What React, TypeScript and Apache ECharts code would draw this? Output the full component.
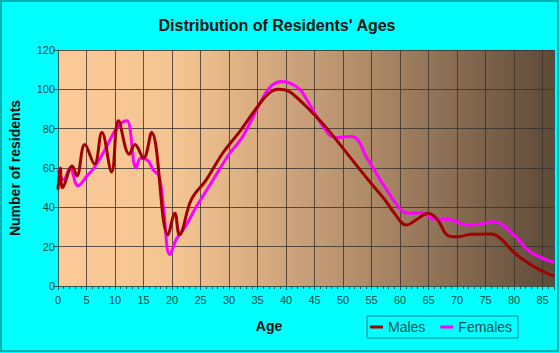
import React, { useEffect, useRef } from "react";
import * as echarts from "echarts";

const title = "Distribution of Residents' Ages";
const xTicks = [0, 5, 10, 15, 20, 25, 30, 35, 40, 45, 50, 55, 60, 65, 70, 75, 80, 85];
const yTicks = [0, 20, 40, 60, 80, 100, 120];

const malesAge = [0, 0.4, 0.8, 2.5, 3.3, 4.7, 6.4, 7.7, 9.4, 10.6, 12.5, 13.5, 15, 16.4, 19.3, 20.5, 21.3, 23.4, 26, 29, 32, 34.7, 37, 38.7, 40.5, 42.2, 45, 47.5, 50, 54.4, 57.3, 59, 61.1, 63, 64.9, 66.5, 68.5, 70, 72.4, 76, 77.5, 80, 82.8, 85, 87];
const malesVal = [49, 60, 50, 61, 56, 72, 62, 78, 58, 84, 67, 72, 65, 78, 26, 37, 26, 44, 54, 68, 79, 90, 98, 100, 99, 95, 87, 79, 70, 54, 44, 37, 31, 34, 37, 34, 25.5, 25, 26.3, 26.5, 24.5, 17, 11, 7.5, 5];

const femalesAge = [0, 1, 2.1, 3.5, 5.1, 6.3, 8, 10, 11.2, 12.1, 13.7, 14.5, 15.8, 16.7, 17.7, 18.5, 19.6, 20.8, 22.5, 24.2, 27, 30, 32.4, 35.8, 37.5, 39.3, 42.2, 44, 46.3, 48.6, 51.5, 54.4, 57.3, 60.2, 61.4, 63.7, 66, 68.3, 71.8, 74.1, 76.4, 79.9, 82.8, 87];
const femalesVal = [59, 54, 60, 51, 56, 60, 68, 79, 83, 84, 60, 65, 63.7, 59, 56, 40, 16, 24, 31, 40, 53, 67, 76, 95, 102, 104, 100.5, 93, 82, 75.5, 76, 64, 50.5, 38.5, 37, 37.3, 34, 34, 31, 31.5, 32.7, 26, 17.4, 12];

const font = "'Liberation Sans', Arial, sans-serif";
const labelColor = "#1f4a3c";

export default function App() {
  const ref = useRef<HTMLDivElement>(null);
  useEffect(() => {
    document.body.style.margin = "0";
    const chart = echarts.init(ref.current!, null, { renderer: "svg" });
    const males = malesAge.map((a, i) => [a, malesVal[i]]);
    const females = femalesAge.map((a, i) => [a, femalesVal[i]]);
    chart.setOption({
      animation: false,
      backgroundColor: "#00FFFF",
      textStyle: { fontFamily: font },
      graphic: [
        {
          type: "rect",
          shape: { x: 1, y: 1, width: 557, height: 350 },
          style: { fill: "none", stroke: "#009999", lineWidth: 1.5 },
          silent: true,
        },
      ],
      title: {
        text: title,
        left: 272,
        textAlign: "center",
        top: 12,
        textStyle: { fontSize: 16, fontWeight: "bold", color: "#111", fontFamily: font },
      },
      legend: {
        left: 367,
        top: 316,
        orient: "horizontal",
        borderColor: "#008080",
        borderWidth: 1,
        padding: [4, 6, 4, 3],
        itemGap: 15,
        itemWidth: 13,
        itemHeight: 3,
        icon: "rect",
        textStyle: { fontSize: 14, color: "#135050", fontFamily: font },
        data: ["Males", "Females"],
      },
      grid: {
        left: 54,
        right: 6,
        top: 50,
        bottom: 67,
        show: true,
        borderWidth: 0,
        backgroundColor: new echarts.graphic.LinearGradient(0, 0, 1, 0, [
          { offset: 0, color: "#FBCA98" },
          { offset: 0.25, color: "#F3C390" },
          { offset: 0.55, color: "#BE9772" },
          { offset: 1, color: "#5E4A38" },
        ]),
      },
      xAxis: {
        type: "value",
        min: 0,
        max: 87,
        interval: 5,
        name: "Age",
        nameLocation: "middle",
        nameGap: 33,
        nameTextStyle: { fontSize: 14, fontWeight: "bold", color: "#111", padding: [0, 74, 0, 0] },
        axisLine: { show: true, lineStyle: { color: "#2a5a50", width: 1 } },
        axisTick: { show: true, length: 4, lineStyle: { color: "#2a5a50" } },
        minorTick: { show: true, splitNumber: 5, length: 3, lineStyle: { color: "#2a5a50" } },
        axisLabel: {
          fontSize: 11,
          color: labelColor,
          margin: 8,
          showMaxLabel: false,
          formatter: (v: number) => (xTicks.includes(v) ? String(v) : ""),
        },
        splitLine: { show: true, lineStyle: { color: "rgba(55,50,45,0.8)", width: 1 } },
      },
      yAxis: {
        type: "value",
        min: 0,
        max: 120,
        interval: 20,
        name: "Number of residents",
        nameLocation: "middle",
        nameGap: 36,
        nameTextStyle: { fontSize: 14, fontWeight: "bold", color: "#111" },
        axisLine: { show: true, lineStyle: { color: "#2a5a50", width: 1 } },
        axisTick: { show: true, length: 5, lineStyle: { color: "#2a5a50" } },
        axisLabel: {
          fontSize: 11,
          color: labelColor,
          margin: 3,
          formatter: (v: number) => (yTicks.includes(v) ? String(v) : ""),
        },
        splitLine: { show: true, lineStyle: { color: "rgba(55,50,45,0.8)", width: 1 } },
      },
      series: [
        {
          name: "Males",
          type: "line",
          data: males,
          smooth: 0.4,
          showSymbol: false,
          lineStyle: { color: "#A00000", width: 3 },
          itemStyle: { color: "#A00000" },
          z: 3,
        },
        {
          name: "Females",
          type: "line",
          data: females,
          smooth: 0.4,
          showSymbol: false,
          lineStyle: { color: "#FF00FF", width: 3 },
          itemStyle: { color: "#FF00FF" },
          z: 2,
        },
      ],
    });
    return () => chart.dispose();
  }, []);
  return <div ref={ref} style={{ width: 560, height: 353 }} />;
}
